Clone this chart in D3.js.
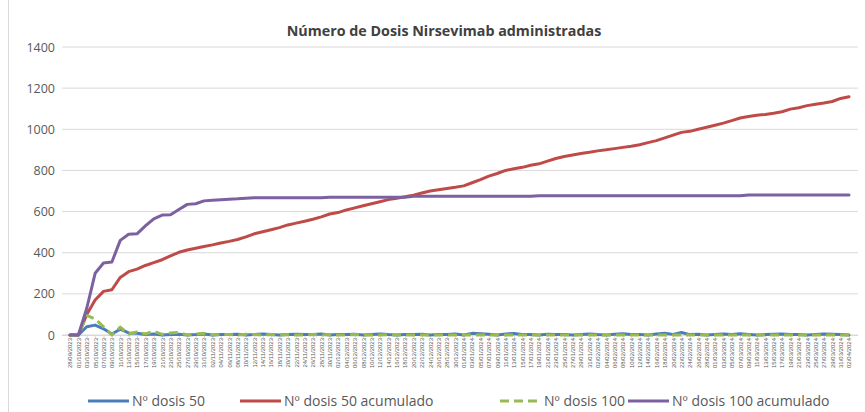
<!DOCTYPE html>
<html>
<head>
<meta charset="utf-8">
<script src="https://cdn.jsdelivr.net/npm/d3@7"></script>
<style>
  body { margin: 0; background: #fff; }
  svg { display: block; font-family: "Open Sans", "DejaVu Sans", sans-serif; }
</style>
</head>
<body>
<svg id="chart" width="865" height="412"></svg>
<script>
// categories: one label every two days
const fechas = [
  "28/09/2023","01/10/2023","03/10/2023","05/10/2023","07/10/2023","09/10/2023","11/10/2023","13/10/2023","15/10/2023","17/10/2023",
  "19/10/2023","21/10/2023","23/10/2023","25/10/2023","27/10/2023","29/10/2023","31/10/2023","02/11/2023","04/11/2023","06/11/2023",
  "08/11/2023","10/11/2023","12/11/2023","14/11/2023","16/11/2023","18/11/2023","20/11/2023","22/11/2023","24/11/2023","26/11/2023",
  "28/11/2023","30/11/2023","02/12/2023","04/12/2023","06/12/2023","08/12/2023","10/12/2023","12/12/2023","14/12/2023","16/12/2023",
  "18/12/2023","20/12/2023","22/12/2023","24/12/2023","26/12/2023","28/12/2023","30/12/2023","01/01/2024","03/01/2024","05/01/2024",
  "07/01/2024","09/01/2024","11/01/2024","13/01/2024","15/01/2024","17/01/2024","19/01/2024","21/01/2024","23/01/2024","25/01/2024",
  "27/01/2024","29/01/2024","31/01/2024","02/02/2024","04/02/2024","06/02/2024","08/02/2024","10/02/2024","12/02/2024","14/02/2024",
  "16/02/2024","18/02/2024","20/02/2024","22/02/2024","24/02/2024","26/02/2024","28/02/2024","01/03/2024","03/03/2024","05/03/2024",
  "07/03/2024","09/03/2024","11/03/2024","13/03/2024","15/03/2024","17/03/2024","19/03/2024","21/03/2024","23/03/2024","25/03/2024",
  "27/03/2024","29/03/2024","31/03/2024","02/04/2024"
];

const dosis50 = [
  0,0,40,48,30,5,28,10,8,2, 5,0,3,4,0,2,5,0,3,2, 4,0,2,5,3,0,2,4,3,2,
  5,0,3,2,4,0,3,5,2,0, 3,2,4,0,2,3,5,0,8,6, 4,0,5,7,3,2,0,4,3,2, 0,3,5,2,0,4,6,3,2,0, 5,8,3,12,2,4,0,3,5,2,
  6,3,0,2,4,5,3,2,0,3, 5,4,2,0
];
const dosis50acum = [
  0,0,100,170,212,220,280,308,320,338, 352,366,385,402,413,422,430,438,447,455,
  464,477,492,502,512,522,535,544,553,563, 574,588,595,608,618,628,638,648,658,665,
  672,680,690,700,706,712,718,725,740,755, 772,785,800,808,815,825,832,845,858,868,
  875,882,888,895,900,906,912,918,925,935, 945,958,972,985,990,1000,1010,1020,1030,1042,
  1055,1062,1068,1072,1078,1085,1098,1105,1115,1122, 1128,1135,1150,1158
];
const dosis100 = [
  0,0,95,78,40,0,38,5,15,5, 18,3,10,12,0,5,8,0,3,2, 0,4,2,0,3,0,2,0,0,3,
  0,2,0,0,2,0,0,0,2,0, 0,0,0,0,0,0,0,0,0,0, 0,0,0,0,0,0,0,0,0,0, 0,0,0,0,0,0,0,0,0,0, 0,0,0,0,0,0,0,0,0,0,
  0,0,0,0,0,0,0,0,0,0, 0,0,0,0
];
const dosis100acum = [
  0,0,130,300,350,355,460,490,492,530, 565,583,585,610,635,638,652,655,658,660,
  662,665,667,667,667,667,667,667,667,667, 667,670,670,670,670,670,670,670,670,670,
  670,674,674,674,674,674,674,674,674,674, 674,674,674,674,674,674,677,677,677,677,
  677,677,677,677,677,677,677,677,677,677, 677,677,677,677,677,677,677,677,677,677,
  677,680,680,680,680,680,680,680,680,680, 680,680,680,680
];
const yTicks = [0, 200, 400, 600, 800, 1000, 1200, 1400];

const series = [
  { name: "Nº dosis 50", values: dosis50, color: "#4a7ebb", dash: null },
  { name: "Nº dosis 50 acumulado", values: dosis50acum, color: "#be4b48", dash: null },
  { name: "Nº dosis 100", values: dosis100, color: "#98b954", dash: "9,5" },
  { name: "Nº dosis 100 acumulado", values: dosis100acum, color: "#7d60a0", dash: null }
];

const svg = d3.select("#chart");
const width = 865, height = 412;

// frame of the pasted chart
svg.append("line").attr("x1", 8.5).attr("x2", 8.5).attr("y1", 0).attr("y2", height)
  .attr("stroke", "#d9d9d9");

const x = d3.scalePoint().domain(fechas).range([70, 849]);
const y = d3.scaleLinear().domain([0, 1400]).range([335, 47]);

// gridlines
svg.append("g")
  .selectAll("line")
  .data(yTicks)
  .join("line")
  .attr("x1", 62).attr("x2", 858)
  .attr("y1", d => y(d)).attr("y2", d => y(d))
  .attr("stroke", "#d9d9d9").attr("stroke-width", 1);

// y axis labels
const yAxis = svg.append("g")
  .attr("transform", "translate(62,0)")
  .call(d3.axisLeft(y).tickValues(yTicks).tickFormat(d3.format("d")).tickSize(0).tickPadding(7));
yAxis.select(".domain").remove();
yAxis.selectAll("text")
  .style("font-size", "12.5px")
  .style("font-family", "Open Sans, sans-serif")
  .attr("fill", "#595959");

// x axis with vertical date labels
const xAxis = svg.append("g")
  .attr("transform", `translate(0,${y(0)})`)
  .call(d3.axisBottom(x).tickSize(3).tickPadding(2));
xAxis.select(".domain").attr("stroke", "#d9d9d9").attr("d", "M62,0.5H858");
xAxis.selectAll(".tick line").attr("stroke", "#d9d9d9");
xAxis.selectAll("text")
  .attr("transform", "rotate(-90)")
  .attr("x", -3).attr("y", 0).attr("dy", "0.32em")
  .style("text-anchor", "end")
  .style("font-size", "6px")
  .style("font-family", "Liberation Sans, sans-serif")
  .attr("fill", "#595959");

// lines
const line = d3.line()
  .x((d, i) => x(fechas[i]))
  .y(d => y(d));

svg.append("g")
  .selectAll("path")
  .data(series)
  .join("path")
  .attr("d", d => line(d.values))
  .attr("fill", "none")
  .attr("stroke", d => d.color)
  .attr("stroke-width", 3)
  .attr("stroke-linejoin", "round")
  .attr("stroke-linecap", d => d.dash ? "butt" : "round")
  .attr("stroke-dasharray", d => d.dash);

// title
svg.append("text")
  .attr("x", 444).attr("y", 36)
  .attr("text-anchor", "middle")
  .style("font-size", "14.3px")
  .style("font-weight", "bold")
  .attr("fill", "#404040")
  .text("Número de Dosis Nirsevimab administradas");

// legend
const legendX = [88, 240, 500, 628];
const legend = svg.append("g")
  .selectAll("g")
  .data(series)
  .join("g")
  .attr("transform", (d, i) => `translate(${legendX[i]},401)`);
legend.append("line")
  .attr("x1", 0).attr("x2", 41)
  .attr("stroke", d => d.color)
  .attr("stroke-width", 3)
  .attr("stroke-dasharray", d => d.dash ? "9,5" : null);
legend.append("text")
  .attr("x", 44).attr("dy", "0.35em")
  .style("font-size", "14px")
  .attr("fill", "#595959")
  .text(d => d.name);
</script>
</body>
</html>
